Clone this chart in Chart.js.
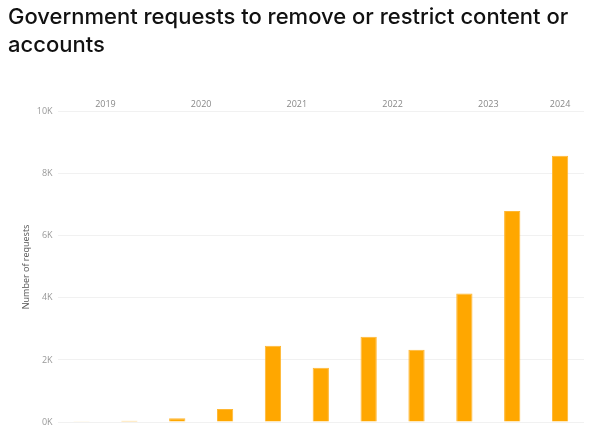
<!DOCTYPE html>
<html>
<head>
<meta charset="utf-8">
<script src="https://cdn.jsdelivr.net/npm/chart.js@4.4.1/dist/chart.umd.min.js"></script>
<style>
  html, body { margin: 0; padding: 0; background: #fff; }
  #wrap { width: 600px; height: 448px; }
</style>
</head>
<body>
<div id="wrap"><canvas id="requestsChart"></canvas></div>
<script>
// half-year periods, H1 2019 .. H1 2024
const periods = ['2019 H1', '2019 H2', '2020 H1', '2020 H2', '2021 H1', '2021 H2',
                 '2022 H1', '2022 H2', '2023 H1', '2023 H2', '2024 H1'];
const requests = [10, 40, 120, 420, 2460, 1750, 2750, 2330, 4140, 6800, 8580];
const yearLabels = ['2019', '2020', '2021', '2022', '2023', '2024'];
const yearPositions = [0.5, 2.5, 4.5, 6.5, 8.5, 10];
const yTicks = [0, 2000, 4000, 6000, 8000, 10000];

const ctx = document.getElementById('requestsChart');

new Chart(ctx, {
  type: 'bar',
  data: {
    labels: periods,
    datasets: [{
      label: 'Requests',
      data: requests,
      backgroundColor: '#ffa700',
      borderColor: '#ffb733',
      borderWidth: 1,
      barPercentage: 0.34,
      categoryPercentage: 1
    }]
  },
  options: {
    responsive: true,
    maintainAspectRatio: false,
    animation: false,
    layout: { padding: { left: 8, right: 16, top: 4, bottom: 26 } },
    plugins: {
      legend: { display: false },
      tooltip: { enabled: false },
      title: {
        display: true,
        align: 'start',
        text: ['Government requests to remove or restrict content or', 'accounts'],
        color: '#111',
        font: { family: 'Inter', size: 22, weight: '500', lineHeight: 1.25 },
        padding: { top: 0, bottom: 38 }
      }
    },
    scales: {
      x: {
        display: false,
        offset: true,
        grid: { display: false }
      },
      years: {
        type: 'linear',
        position: 'top',
        min: -0.5,
        max: 10.5,
        offset: false,
        afterBuildTicks: (axis) => {
          axis.ticks = yearPositions.map(v => ({ value: v }));
        },
        ticks: {
          autoSkip: false,
          maxRotation: 0,
          color: '#888',
          font: { family: 'Open Sans', size: 9 },
          padding: 2,
          callback: (v) => yearLabels[yearPositions.indexOf(v)]
        },
        grid: { display: false, drawTicks: false, offset: false },
        border: { display: false }
      },
      y: {
        min: 0,
        max: 10000,
        afterBuildTicks: (axis) => {
          axis.ticks = yTicks.map(v => ({ value: v }));
        },
        ticks: {
          color: '#999',
          font: { family: 'Open Sans', size: 9 },
          padding: 5,
          callback: (v) => (v / 1000) + 'K'
        },
        grid: { color: '#f1f1f1', drawTicks: false },
        border: { display: false },
        title: {
          display: true,
          text: 'Number of requests',
          color: '#555',
          font: { family: 'Open Sans', size: 9 },
          padding: { top: 13, bottom: 0 }
        }
      }
    }
  }
});
</script>
</body>
</html>
